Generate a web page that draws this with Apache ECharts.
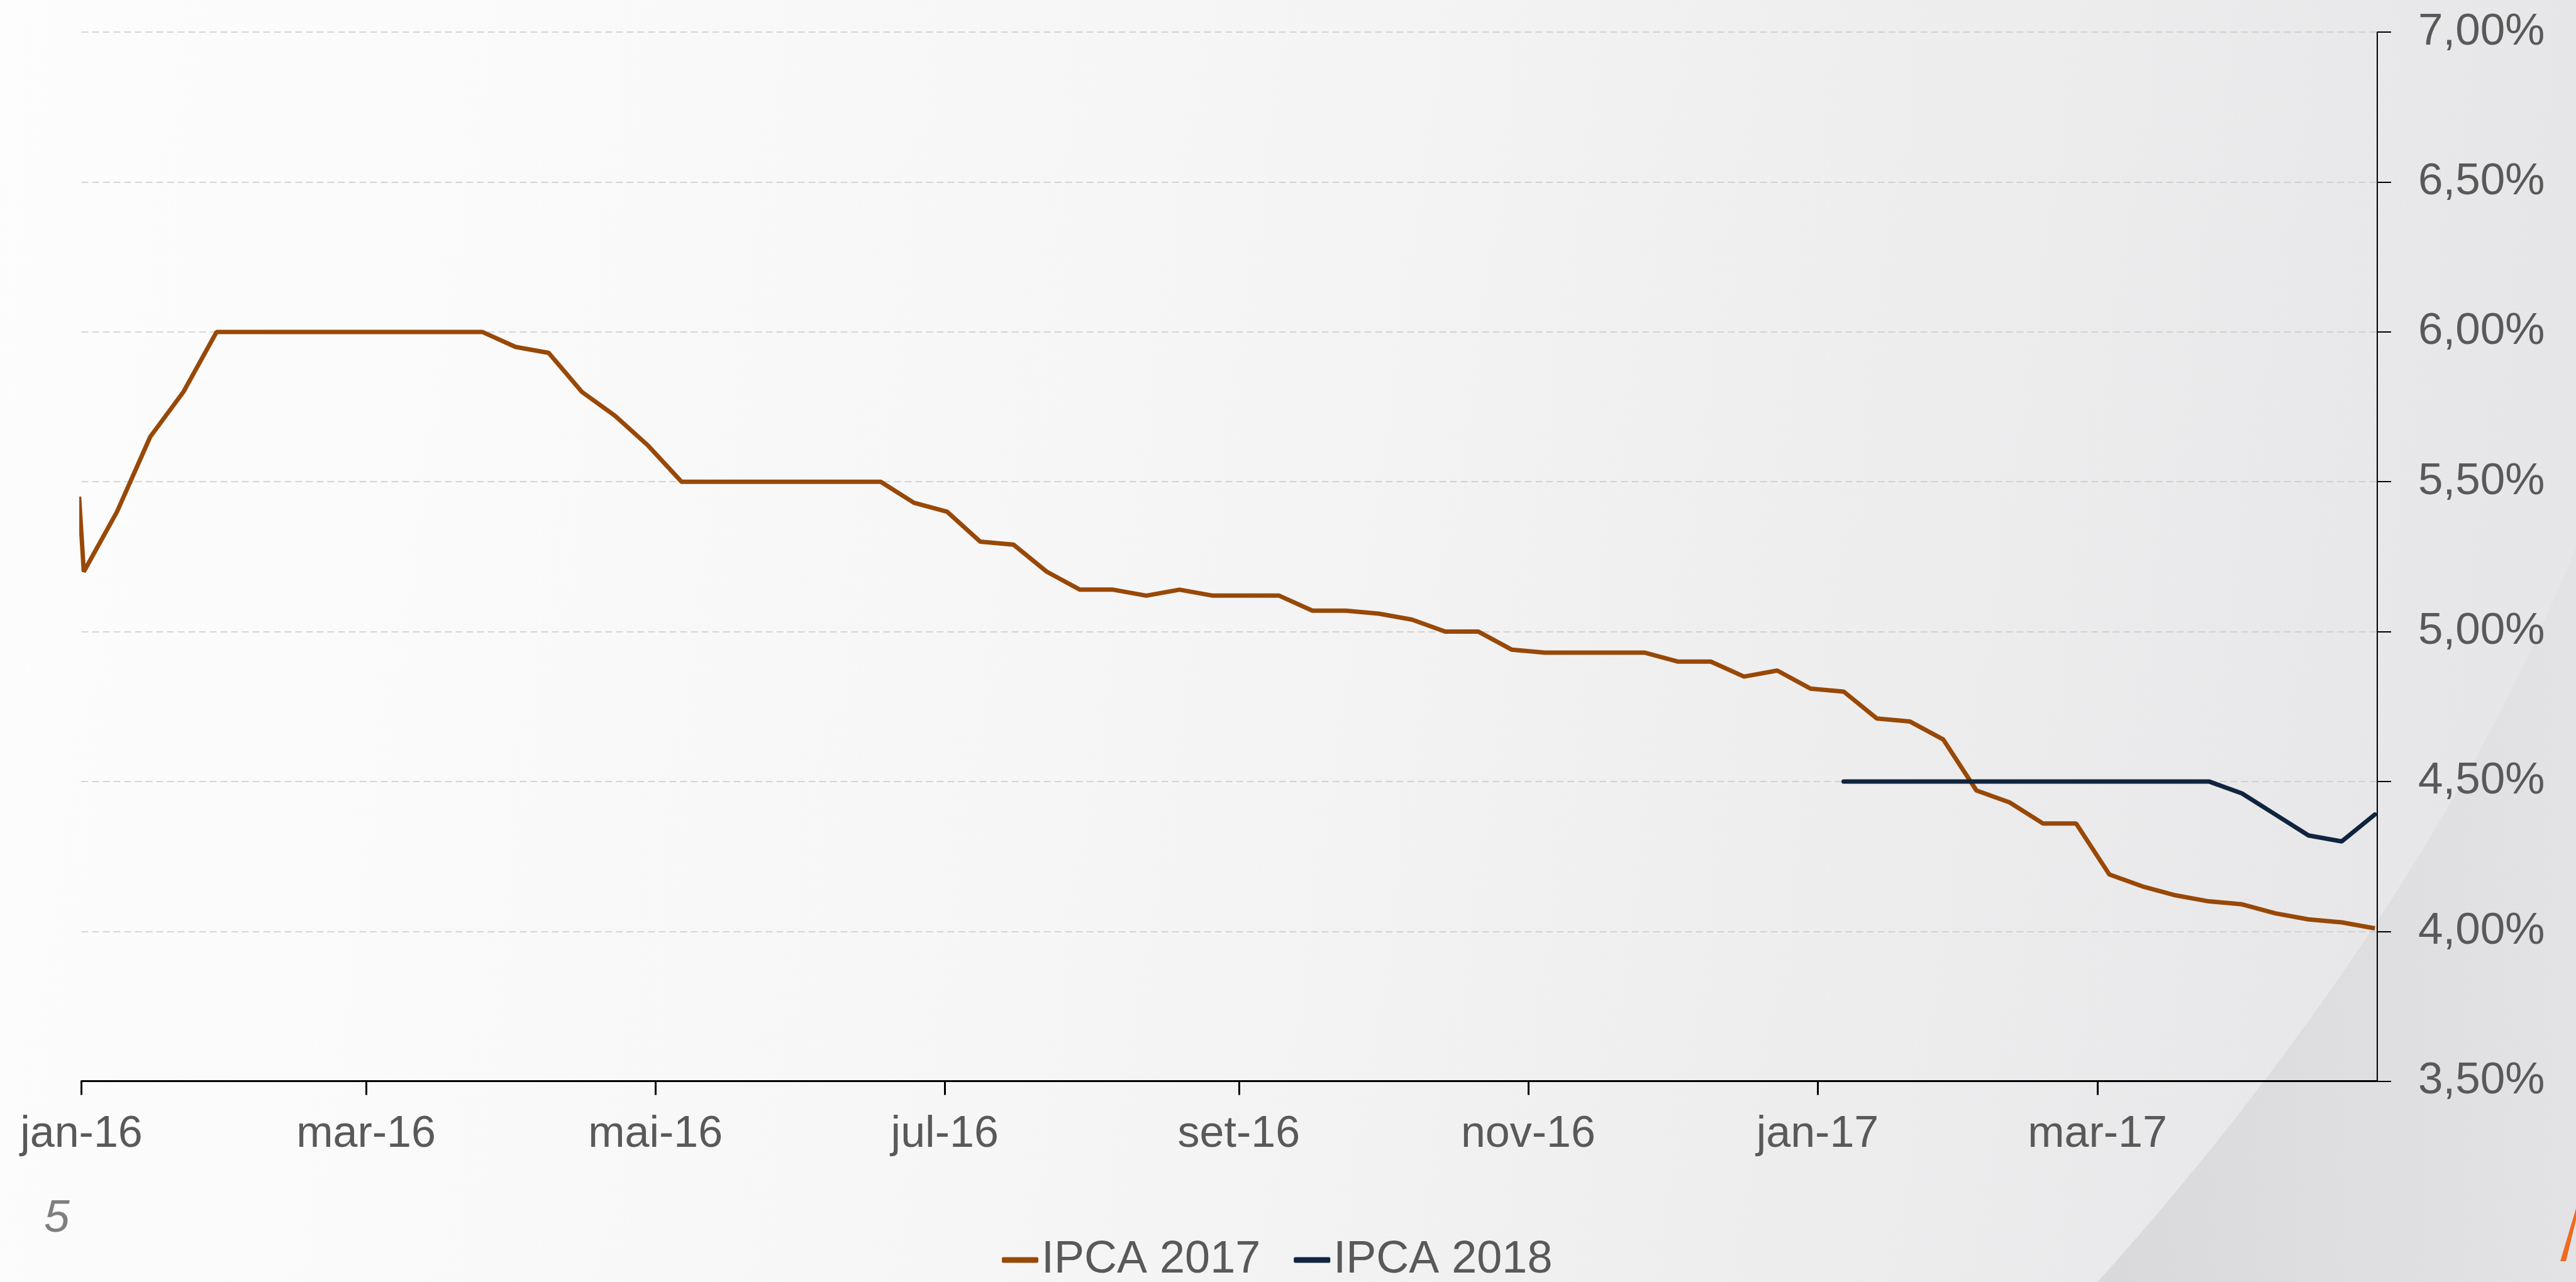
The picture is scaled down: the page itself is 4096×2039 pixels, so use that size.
<!DOCTYPE html>
<html>
<head>
<meta charset="utf-8">
<script src="https://cdn.jsdelivr.net/npm/echarts@6/dist/echarts.min.js"></script>
<style>
  html, body { margin: 0; padding: 0; background: #fafafa; overflow: hidden; }
  #chart { width: 4096px; height: 2039px; }
</style>
</head>
<body>
<div id="chart"></div>
<script>
// ---- Data (weekly survey dates) ----
const dates2017 = [
  '2015-12-31',
  '2016-01-01','2016-01-08','2016-01-15','2016-01-22','2016-01-29',
  '2016-02-05','2016-02-12','2016-02-19','2016-02-26',
  '2016-03-04','2016-03-11','2016-03-18','2016-03-25',
  '2016-04-01','2016-04-08','2016-04-15','2016-04-22','2016-04-29',
  '2016-05-06','2016-05-13','2016-05-20','2016-05-27',
  '2016-06-03','2016-06-10','2016-06-17','2016-06-24',
  '2016-07-01','2016-07-08','2016-07-15','2016-07-22','2016-07-29',
  '2016-08-05','2016-08-12','2016-08-19','2016-08-26',
  '2016-09-02','2016-09-09','2016-09-16','2016-09-23','2016-09-30',
  '2016-10-07','2016-10-14','2016-10-21','2016-10-28',
  '2016-11-04','2016-11-11','2016-11-18','2016-11-25',
  '2016-12-02','2016-12-09','2016-12-16','2016-12-23','2016-12-30',
  '2017-01-06','2017-01-13','2017-01-20','2017-01-27',
  '2017-02-03','2017-02-10','2017-02-17','2017-02-24',
  '2017-03-03','2017-03-10','2017-03-17','2017-03-24','2017-03-31',
  '2017-04-07','2017-04-14','2017-04-21','2017-04-28'
];
const ipca2017 = [
  5.45,
  5.20, 5.40, 5.65, 5.80, 6.00,
  6.00, 6.00, 6.00, 6.00,
  6.00, 6.00, 6.00, 6.00,
  5.95, 5.93, 5.80, 5.72, 5.62,
  5.50, 5.50, 5.50, 5.50,
  5.50, 5.50, 5.50, 5.43,
  5.40, 5.30, 5.29, 5.20, 5.14,
  5.14, 5.12, 5.14, 5.12,
  5.12, 5.12, 5.07, 5.07, 5.06,
  5.04, 5.00, 5.00, 4.94,
  4.93, 4.93, 4.93, 4.93,
  4.90, 4.90, 4.85, 4.87, 4.81,
  4.80, 4.71, 4.70, 4.64,
  4.47, 4.43, 4.36, 4.36,
  4.19, 4.15, 4.12, 4.10, 4.09,
  4.06, 4.04, 4.03, 4.01
];
const dates2018 = [
  '2017-01-06','2017-01-13','2017-01-20','2017-01-27',
  '2017-02-03','2017-02-10','2017-02-17','2017-02-24',
  '2017-03-03','2017-03-10','2017-03-17','2017-03-24','2017-03-31',
  '2017-04-07','2017-04-14','2017-04-21','2017-04-28'
];
const ipca2018 = [
  4.50, 4.50, 4.50, 4.50,
  4.50, 4.50, 4.50, 4.50,
  4.50, 4.50, 4.50, 4.50, 4.46,
  4.39, 4.32, 4.30, 4.39
];
const seriesNames = ['IPCA 2017', 'IPCA 2018'];
const tickDates = ['2016-01-01','2016-03-01','2016-05-01','2016-07-01','2016-09-01','2016-11-01','2017-01-01','2017-03-01'];
const tickLabels = ['jan-16','mar-16','mai-16','jul-16','set-16','nov-16','jan-17','mar-17'];
const axisStart = '2016-01-01';
const axisEnd = '2017-04-29';

// ---- helpers ----
function dayOf(s) {
  const p = s.split('-').map(Number);
  const p0 = axisStart.split('-').map(Number);
  return (Date.UTC(p[0], p[1] - 1, p[2]) - Date.UTC(p0[0], p0[1] - 1, p0[2])) / 86400000;
}
// points sit in the middle of their day (date-axis band)
function toPoints(ds, vs) { return ds.map((d, i) => [dayOf(d) + 0.5, vs[i]]); }
const tickDays = tickDates.map(dayOf);

// decorative background swoosh outline (cubic curve sampled)
function swooshPoints() {
  const P0 = [3335, 2039], P1 = [3560, 1790], P2 = [3900, 1360], P3 = [4096, 870];
  const pts = [];
  for (let i = 0; i <= 40; i++) {
    const t = i / 40, u = 1 - t;
    pts.push([
      u*u*u*P0[0] + 3*u*u*t*P1[0] + 3*u*t*t*P2[0] + t*t*t*P3[0],
      u*u*u*P0[1] + 3*u*u*t*P1[1] + 3*u*t*t*P2[1] + t*t*t*P3[1]
    ]);
  }
  pts.push([4096, 2039]);
  return pts;
}

const FONT = '"Liberation Sans", Arial, sans-serif';
const TXT = '#595959';
const C17 = '#984807';
const C18 = '#10243e';

const chart = echarts.init(document.getElementById('chart'), null, { renderer: 'canvas' });
chart.setOption({
  animation: false,
  textStyle: { fontFamily: FONT },
  graphic: [
    {
      type: 'rect', z: -100, silent: true,
      shape: { x: 0, y: 0, width: 4096, height: 2039 },
      style: { fill: { type: 'linear', x: 0, y: 0, x2: 1, y2: 0.3,
        colorStops: [ { offset: 0, color: '#fdfdfd' }, { offset: 0.45, color: '#f6f6f6' }, { offset: 1, color: '#e6e6e8' } ] } }
    },
    {
      type: 'polygon', z: -99, silent: true,
      shape: { points: swooshPoints() },
      style: { fill: { type: 'linear', x: 0, y: 0, x2: 1, y2: 0,
        colorStops: [ { offset: 0, color: '#d9d9db' }, { offset: 1, color: '#e3e3e5' } ] } }
    },
    {
      type: 'polygon', z: -98, silent: true,
      shape: { points: [[4071, 2006], [4080, 2006], [4096, 1940], [4096, 1922]] },
      style: { fill: '#ef6b1f' }
    },
    {
      type: 'text', z: 10, silent: true,
      style: { x: 70, y: 1939, text: '5', fill: '#7f7f7f', font: 'italic 73px ' + FONT, verticalAlign: 'middle' }
    }
  ],
  grid: { left: 129.5, right: 316, top: 51.2, bottom: 319.4, containLabel: false },
  legend: {
    data: seriesNames,
    left: 1593, top: 1968, padding: 0,
    icon: 'roundRect', itemWidth: 58, itemHeight: 9, itemGap: 53,
    textStyle: { color: TXT, fontSize: 72, fontFamily: FONT }
  },
  xAxis: {
    type: 'value', min: 0, max: dayOf(axisEnd),
    splitLine: { show: false },
    axisLine: { show: true, onZero: false, lineStyle: { color: '#000', width: 3 } },
    axisTick: { show: true, customValues: tickDays, length: 22, lineStyle: { color: '#000', width: 3 } },
    axisLabel: {
      customValues: tickDays, margin: 50, color: TXT, fontSize: 70, fontFamily: FONT,
      formatter: v => { const i = tickDays.indexOf(v); return i >= 0 ? tickLabels[i] : ''; }
    }
  },
  yAxis: {
    type: 'value', position: 'right', min: 3.5, max: 7, interval: 0.5,
    axisLine: { show: true, onZero: false, lineStyle: { color: '#000', width: 2 } },
    axisTick: { show: true, length: 22, lineStyle: { color: '#000', width: 2 } },
    splitLine: { show: true, lineStyle: { color: '#c9c9c9', width: 1.6, type: [11, 6] } },
    axisLabel: {
      margin: 65, color: TXT, fontSize: 71, fontFamily: FONT,
      formatter: v => v.toFixed(2).replace('.', ',') + '%'
    }
  },
  series: [
    {
      name: seriesNames[0], type: 'line', data: toPoints(dates2017, ipca2017),
      showSymbol: false, symbol: 'none', color: C17,
      lineStyle: { color: C17, width: 7 }
    },
    {
      name: seriesNames[1], type: 'line', data: toPoints(dates2018, ipca2018),
      showSymbol: false, symbol: 'none', color: C18,
      lineStyle: { color: C18, width: 7, cap: 'round' }
    }
  ]
});
</script>
</body>
</html>
